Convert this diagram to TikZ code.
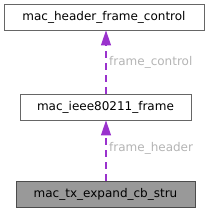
\documentclass[tikz,border=0pt]{standalone}
\usepackage{fontspec}
\setmainfont{DejaVu Sans}
\usetikzlibrary{arrows.meta}
\definecolor{edgepurple}{RGB}{154,50,205}
\definecolor{labelgray}{HTML}{B4B4B4}
\definecolor{boxgray}{HTML}{666666}
\definecolor{fillgray}{HTML}{999999}
\begin{document}
\begin{tikzpicture}[x=1pt,y=-1pt,
  classbox/.style={draw=boxgray,fill=white,line width=0.8pt,minimum height=26pt,inner sep=0pt,font=\fontsize{12}{14}\selectfont},
  mainbox/.style={classbox,draw=black!70,fill=fillgray},
  dep/.style={draw=edgepurple,line width=1.1pt,dash pattern=on 7pt off 5pt,-{Triangle[length=15pt,width=10pt,fill=edgepurple,color=edgepurple]}},
  lbl/.style={text=labelgray,font=\fontsize{12}{14}\selectfont,anchor=west,inner sep=0pt}]
\useasboundingbox (0,0) rectangle (211,212);
\node[classbox,minimum width=200pt] (hfc) at (104,17) {mac\_header\_frame\_control};
\node[classbox,minimum width=171pt] (frame) at (105.5,107) {mac\_ieee80211\_frame};
\node[mainbox,minimum width=179pt] (tx) at (105.5,194) {mac\_tx\_expand\_cb\_stru};
\coordinate (a1) at ([xshift=0.5pt]frame.north);
\coordinate (b1) at ([xshift=0.5pt]hfc.south -| frame.north);
\coordinate (a2) at ([xshift=0.5pt]tx.north);
\coordinate (b2) at ([xshift=0.5pt]frame.south);
\draw[dep] (a1) -- (b1);
\draw[dep] (a2) -- (b2);
\node[lbl] (l1) at (109,62) {frame\_control};
\node[lbl] (l2) at (109,148) {frame\_header};
\end{tikzpicture}
\end{document}
